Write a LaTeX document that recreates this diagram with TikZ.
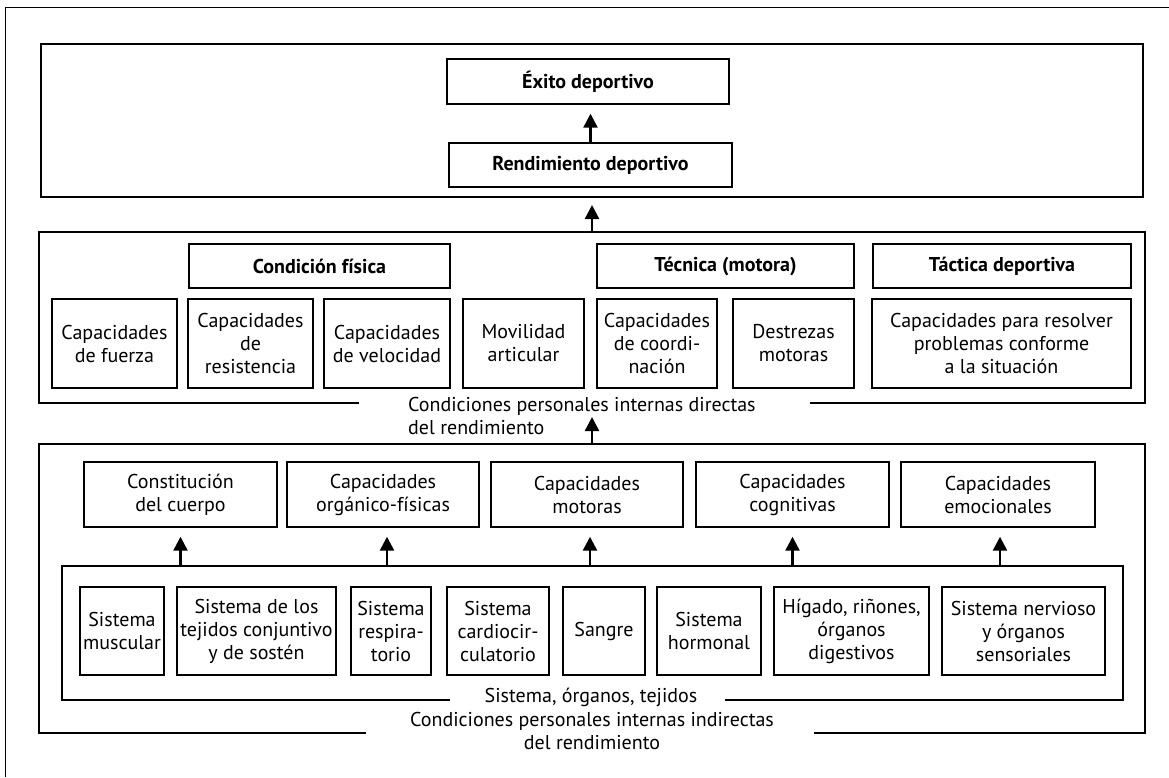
\documentclass[tikz,border=0pt]{standalone}
\usepackage{fontspec}
\setmainfont{PT Sans}
\usetikzlibrary{arrows.meta}
\newcommand\myfs{\fontsize{20}{23}\selectfont}
\begin{document}
\begin{tikzpicture}[x=1pt,y=-1pt,
  bx/.style={draw, line width=1.4pt, align=center, inner sep=0pt, font=\myfs},
  hb/.style={bx, font=\myfs\bfseries},
  frm/.style={inner sep=0pt, outer sep=0pt},
  thick frame/.style={line width=2.8pt, line join=miter},
  arr/.style={line width=2.4pt, -{Triangle[length=14pt,width=14pt]}},
  lbl/.style={font=\myfs, inner sep=0pt}]
\useasboundingbox (0,0) rectangle (1169,777);
% outer crop frame
\draw[line width=0.8pt] (5,777) -- (5,7) -- (1169,7);

% frames
\node[frm, minimum width=1102pt, minimum height=153pt] (f1) at (592,120.5) {};
\node[frm, minimum width=1106pt, minimum height=171pt] (f2) at (592,317.5) {};
\node[frm, minimum width=1106pt, minimum height=289pt] (f3) at (592,588.5) {};
\node[frm, minimum width=1061pt, minimum height=134pt] (f4) at (592.5,633) {};
\draw[thick frame] (f1.north west) rectangle (f1.south east);
\draw[thick frame] (f2.south west) ++(320,0) -- (f2.south west) -- (f2.north west) -- (f2.north east) -- (f2.south east) -- ++(-335,0);
\draw[thick frame] (f3.south west) ++(327,0) -- (f3.south west) -- (f3.north west) -- (f3.north east) -- (f3.south east) -- ++(-331,0);
\draw[thick frame] (f4.south west) ++(388,0) -- (f4.south west) -- (f4.north west) -- (f4.north east) -- (f4.south east) -- ++(-398,0);

% top
\node[hb, minimum width=282pt, minimum height=45pt] (exito) at (588,81.5) {Éxito deportivo};
\node[hb, minimum width=283pt, minimum height=44pt] (rend) at (590.5,165) {Rendimiento deportivo};

% frame 2 headers
\node[hb, minimum width=261pt, minimum height=44pt] (cf) at (319.5,266) {Condición física};
\node[hb, minimum width=257pt, minimum height=44pt] (tm) at (725.5,266) {Técnica (motora)};
\node[hb, minimum width=258pt, minimum height=44pt] (td) at (1002,266) {Táctica deportiva};

% frame 2 row
\node[bx, minimum width=125pt, minimum height=89pt] (fu) at (114.5,343.5) {Capacidades\\de fuerza};
\node[bx, minimum width=125pt, minimum height=89pt] (re) at (250.5,343.5) {Capacidades\\de\\resistencia};
\node[bx, minimum width=126pt, minimum height=89pt] (ve) at (387,343.5) {Capacidades\\de velocidad};
\node[bx, minimum width=121pt, minimum height=89pt] (mo) at (523.5,343.5) {Movilidad\\articular};
\node[bx, minimum width=120pt, minimum height=89pt] (co) at (657,343.5) {Capacidades\\de coordi-\\nación};
\node[bx, minimum width=121pt, minimum height=89pt] (de) at (793.5,343.5) {Destrezas\\motoras};
\node[bx, minimum width=259pt, minimum height=89pt] (rs) at (1001.5,343.5) {Capacidades para resolver\\problemas conforme\\a la situación};

\node[lbl, anchor=west, align=left] (l2) at (408,416) {Condiciones personales internas directas\\del rendimiento};

% frame 3 headers
\node[bx, minimum width=193pt, minimum height=65pt] (h1) at (180.5,494.5) {Constitución\\del cuerpo};
\node[bx, minimum width=192pt, minimum height=65pt] (h2) at (383,494.5) {Capacidades\\orgánico-físicas};
\node[bx, minimum width=192pt, minimum height=65pt] (h3) at (587,494.5) {Capacidades\\motoras};
\node[bx, minimum width=193pt, minimum height=65pt] (h4) at (792.5,494.5) {Capacidades\\cognitivas};
\node[bx, minimum width=194pt, minimum height=65pt] (h5) at (998,494.5) {Capacidades\\emocionales};

% frame 4 items
\node[bx, minimum width=84pt, minimum height=88pt] (s1) at (122,631) {Sistema\\muscular};
\node[bx, minimum width=159pt, minimum height=88pt] (s2) at (256.5,631) {Sistema de los\\tejidos conjuntivo\\y de sostén};
\node[bx, minimum width=80pt, minimum height=88pt] (s3) at (391,631) {Sistema\\respira-\\torio};
\node[bx, minimum width=102pt, minimum height=88pt] (s4) at (498,631) {Sistema\\cardiocir-\\culatorio};
\node[bx, minimum width=82pt, minimum height=88pt] (s5) at (604,631) {Sangre};
\node[bx, minimum width=104pt, minimum height=88pt] (s6) at (709,631) {Sistema\\hormonal};
\node[bx, minimum width=155pt, minimum height=88pt] (s7) at (851.5,631) {Hígado, riñones,\\órganos\\digestivos};
\node[bx, minimum width=163pt, minimum height=88pt] (s8) at (1023.5,631) {Sistema nervioso\\y órganos\\sensoriales};

\node[lbl] (l4) at (591,697) {Sistema, órganos, tejidos};
\node[lbl, align=center] (l3) at (592,731) {Condiciones personales internas indirectas\\del rendimiento};

% arrows
\draw[arr, shorten >=9pt] (rend.north) -- (rend.north |- exito.south);
\draw[arr, shorten >=8pt] (f2.north) -- (f1.south);
\draw[arr, shorten >=14pt] (f3.north) -- (f2.south);
\draw[arr, shorten >=9pt] (h1.south |- f4.north) -- (h1.south);
\draw[arr, shorten >=9pt] ([xshift=4pt]h2.south |- f4.north) -- ([xshift=4pt]h2.south);
\draw[arr, shorten >=9pt] ([xshift=3pt]h3.south |- f4.north) -- ([xshift=3pt]h3.south);
\draw[arr, shorten >=9pt] (h4.south |- f4.north) -- (h4.south);
\draw[arr, shorten >=9pt] ([xshift=2pt]h5.south |- f4.north) -- ([xshift=2pt]h5.south);
\end{tikzpicture}
\end{document}
